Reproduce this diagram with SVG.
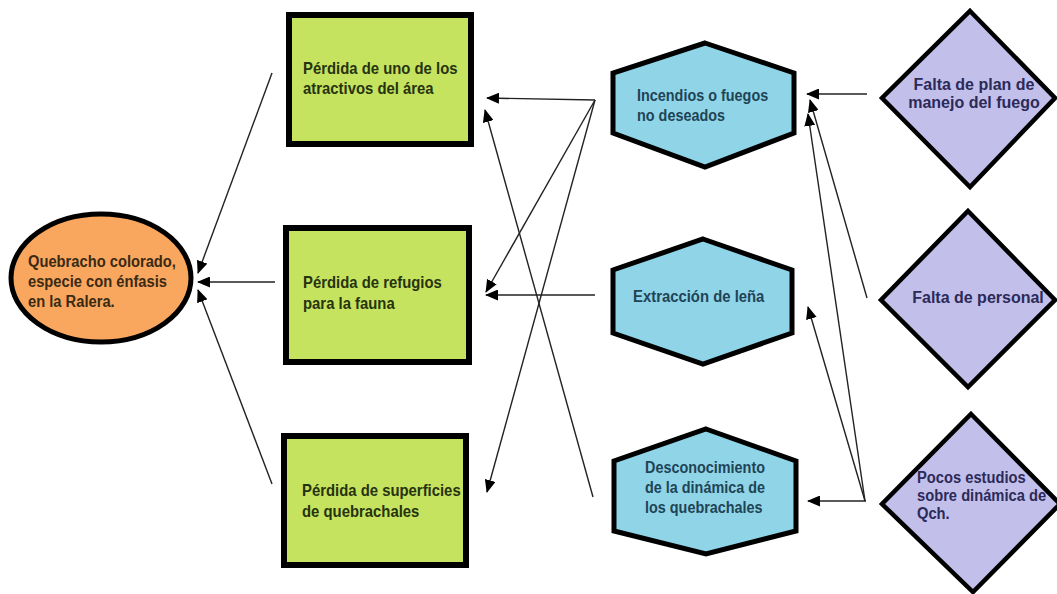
<svg xmlns="http://www.w3.org/2000/svg" width="1057" height="594" viewBox="0 0 1057 594">
<style>
.t{font-family:"Liberation Sans",Arial,sans-serif;font-weight:bold;font-size:16px}
.rect{fill:#C6E35F;stroke:#000;stroke-width:6}
.hex{fill:#90D4E8;stroke:#000;stroke-width:5;stroke-linejoin:miter}
.dia{fill:#C3BFEB;stroke:#000;stroke-width:4.5}
.ell{fill:#F9A75F;stroke:#000;stroke-width:5}
.tg{fill:#26330F}
.tb{fill:#1E4455}
.tp{fill:#2B2A58}
.to{fill:#3A2A14}
.c{stroke:#222;stroke-width:1.4;fill:none;marker-end:url(#ah)}
</style>
<defs>
<marker id="ah" markerUnits="userSpaceOnUse" markerWidth="13" markerHeight="11" viewBox="0 0 13 11" refX="12" refY="5.5" orient="auto">
<path d="M0,0 L13,5.5 L0,11 Z" fill="#000"/>
</marker>
</defs>
<rect width="1057" height="594" fill="#fff"/>
<g id="connectors">
<line class="c" x1="272" y1="73" x2="198" y2="273"/>
<line class="c" x1="275" y1="282" x2="198" y2="282"/>
<line class="c" x1="272" y1="484" x2="198" y2="290"/>
<line class="c" x1="595" y1="100" x2="487" y2="98"/>
<line class="c" x1="595" y1="100" x2="486" y2="292"/>
<line class="c" x1="595" y1="100" x2="487" y2="492"/>
<line class="c" x1="593" y1="497" x2="485" y2="110"/>
<line class="c" x1="595" y1="295" x2="486" y2="295"/>
<line class="c" x1="867" y1="94" x2="807" y2="94"/>
<line class="c" x1="867" y1="298" x2="810" y2="100"/>
<line class="c" x1="865" y1="501" x2="808" y2="114"/>
<line class="c" x1="865" y1="501" x2="808" y2="307"/>
<line class="c" x1="866" y1="501" x2="808" y2="501"/>
</g>
<g id="n_quebracho">
<ellipse class="ell" cx="101" cy="278" rx="90" ry="64"/>
<text class="t to" transform="translate(28,0) scale(0.92,1)"><tspan x="0" y="267">Quebracho colorado,</tspan><tspan x="0" y="287">especie con énfasis</tspan><tspan x="0" y="307">en la Ralera.</tspan></text>
</g>
<g id="n_perdida_atractivos">
<rect class="rect" x="289" y="15" width="182" height="129"/>
<text class="t tg" transform="translate(303,0) scale(0.93,1)"><tspan x="0" y="74">Pérdida de uno de los</tspan><tspan x="0" y="94">atractivos del área</tspan></text>
</g>
<g id="n_perdida_refugios">
<rect class="rect" x="286" y="228" width="183" height="134"/>
<text class="t tg" transform="translate(303,0) scale(0.93,1)"><tspan x="0" y="288">Pérdida de refugios</tspan><tspan x="0" y="309">para la fauna</tspan></text>
</g>
<g id="n_perdida_superficies">
<rect class="rect" x="284" y="436" width="182" height="129"/>
<text class="t tg" transform="translate(302,0) scale(0.93,1)"><tspan x="0" y="496">Pérdida de superficies</tspan><tspan x="0" y="517">de quebrachales</tspan></text>
</g>
<g id="n_incendios">
<polygon class="hex" points="705,43 794,73 794,133 705,167 613,133 613,73"/>
<text class="t tb" transform="translate(637,0) scale(0.9,1)"><tspan x="0" y="101">Incendios o fuegos</tspan><tspan x="0" y="121">no deseados</tspan></text>
</g>
<g id="n_extraccion">
<polygon class="hex" points="703,239 792,270 792,333 703,364 613,333 613,270"/>
<text class="t tb" transform="translate(633,0) scale(0.93,1)"><tspan x="0" y="302">Extracción de leña</tspan></text>
</g>
<g id="n_desconocimiento">
<polygon class="hex" points="706,429 796,461 796,531 706,554 614,531 614,461"/>
<text class="t tb" transform="translate(645,0) scale(0.9,1)"><tspan x="0" y="473">Desconocimiento</tspan><tspan x="0" y="493">de la dinámica de</tspan><tspan x="0" y="513">los quebrachales</tspan></text>
</g>
<g id="n_falta_plan">
<polygon class="dia" points="970,11 1055,98 970,187 882,98"/>
<text class="t tp" text-anchor="middle" transform="translate(974,0) scale(1.0,1)"><tspan x="0" y="90">Falta de plan de</tspan><tspan x="0" y="108">manejo del fuego</tspan></text>
</g>
<g id="n_falta_personal">
<polygon class="dia" points="968,211 1055,300 968,387 881,300"/>
<text class="t tp" text-anchor="middle" transform="translate(978,0) scale(1.0,1)"><tspan x="0" y="303">Falta de personal</tspan></text>
</g>
<g id="n_pocos_estudios">
<polygon class="dia" points="971,414 1060,504 973,592 882,504"/>
<text class="t tp" transform="translate(917,0) scale(0.92,1)"><tspan x="0" y="483">Pocos estudios</tspan><tspan x="0" y="501">sobre dinámica de</tspan><tspan x="0" y="519">Qch.</tspan></text>
</g>
</svg>
